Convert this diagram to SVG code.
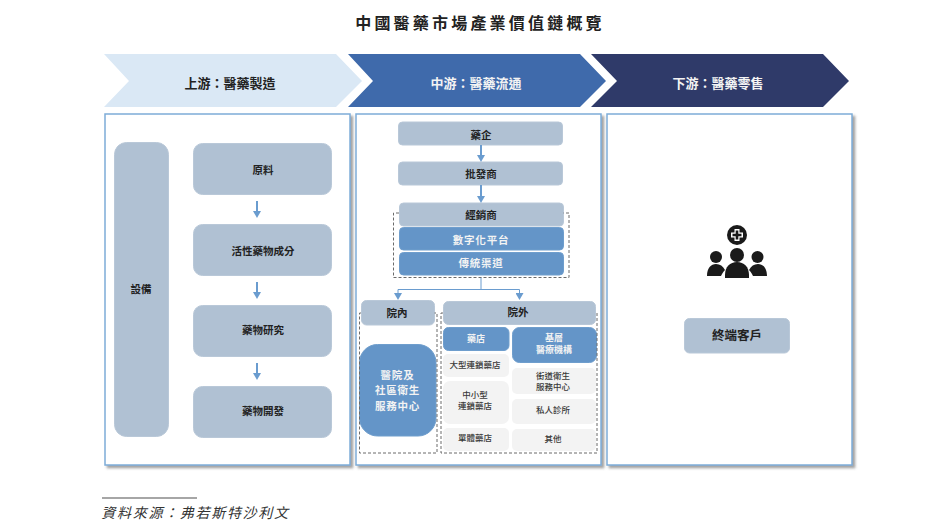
<svg xmlns="http://www.w3.org/2000/svg" width="949" height="525" viewBox="0 0 949 525">
<style>
text{font-family:"Noto Sans CJK TC","Noto Sans CJK SC",sans-serif;text-anchor:middle;font-weight:700;fill:#222}
.g{fill:#b0c1d3;stroke:#b9c8d8;stroke-width:1}
.b{fill:#6495c8;stroke:#6f9ecd;stroke-width:1}
.p{fill:#fff;stroke:#7dacd8;stroke-width:1.5;filter:url(#sh)}
.t{fill:#f3f3f3;stroke:none}
.m{font-weight:500;fill:#3a3a3a}
.lt{fill:#f3f3f3}
.d{fill:none;stroke:#6b6b6b;stroke-width:1;stroke-dasharray:3 2}
.c{fill:none;stroke:#6a9ccf;stroke-width:2}
.c2{fill:none;stroke:#6a9ccf;stroke-width:1}
</style>
<defs>
<filter id="sh" x="-5%" y="-5%" width="110%" height="110%"><feDropShadow dx="2.5" dy="2.5" stdDeviation="1.2" flood-color="#666" flood-opacity="0.6"/></filter>
<marker id="s" markerWidth="8" markerHeight="7" refX="4" refY="1" orient="0" viewBox="0 0 8 7" markerUnits="userSpaceOnUse"><path d="M0 0L8 0L4 7Z" fill="#6a9ccf"/></marker>
</defs>
<text id="title" x="480" y="29" font-size="16" letter-spacing="3.200">中國醫藥市場產業價值鏈概覽</text>
<g id="stage-up"><path d="M104 54H336L362 81L336 107H104L129 81Z" fill="#dae8f5"/><text x="230" y="88" font-size="13">上游&#xFF1A;醫藥製造</text></g>
<g id="stage-mid"><path d="M348 54H580L606 81L580 107H348L373 81Z" fill="#3f6aab"/><text class="lt" x="476" y="88" font-size="13">中游&#xFF1A;醫藥流通</text></g>
<g id="stage-down"><path d="M591 54H823L849 81L823 107H591L617 81Z" fill="#2f3a69"/><text class="lt" x="718" y="88" font-size="13">下游&#xFF1A;醫藥零售</text></g>
<rect id="panel-up" class="p" x="105" y="114" width="245" height="351"/>
<rect id="panel-mid" class="p" x="356" y="114" width="245" height="351"/>
<rect id="panel-down" class="p" x="607" y="114" width="245" height="351"/>
<g id="equipment"><rect class="g" x="114.500" y="142.500" width="54" height="294" rx="12"/><text x="141" y="293" font-size="10.500">設備</text></g>
<g id="raw"><rect class="g" x="193.500" y="143.500" width="138" height="51" rx="9"/><text x="263" y="174" font-size="10.500">原料</text></g>
<g id="api"><rect class="g" x="193.500" y="224.500" width="138" height="51" rx="9"/><text x="263" y="255" font-size="10.500">活性藥物成分</text></g>
<g id="research"><rect class="g" x="193.500" y="305.500" width="138" height="51" rx="9"/><text x="263" y="334" font-size="10.500">藥物研究</text></g>
<g id="dev"><rect class="g" x="193.500" y="386.500" width="138" height="51" rx="9"/><text x="263" y="415" font-size="10.500">藥物開發</text></g>
<g id="pharma"><rect class="g" x="398.500" y="122" width="164" height="23" rx="4"/><text x="481" y="139" font-size="10.500">藥企</text></g>
<g id="wholesale"><rect class="g" x="398.500" y="162" width="164" height="23" rx="4"/><text x="481" y="178" font-size="10.500">批發商</text></g>
<g id="distributor"><rect class="g" x="399.500" y="203" width="164" height="23" rx="4"/><text x="481" y="219" font-size="10.500">經銷商</text></g>
<g id="digital"><rect class="b" x="399.500" y="227.500" width="164" height="22.500" rx="4"/><text class="lt" x="481" y="244" font-size="10.500" letter-spacing="0.800">數字化平台</text></g>
<g id="traditional"><rect class="b" x="399.500" y="252.500" width="164" height="22.500" rx="4"/><text class="lt" x="481" y="267" font-size="10.500" letter-spacing="0.800">傳統渠道</text></g>
<g id="inhospital"><rect class="g" x="361.500" y="300.500" width="73" height="24.500" rx="5"/><text x="397" y="317" font-size="10.500">院內</text></g>
<g id="outhospital"><rect class="g" x="443.500" y="301.500" width="152" height="23" rx="5"/><text x="518" y="316" font-size="10.500">院外</text></g>
<g id="hospitals"><rect class="b" x="359.500" y="344.500" width="76.500" height="91.500" rx="18"/><text class="lt" font-size="10.500" letter-spacing="0.800"><tspan x="397.500" y="379">醫院及</tspan><tspan x="397.500" y="394">社區衛生</tspan><tspan x="397.500" y="410">服務中心</tspan></text></g>
<g id="pharmacy"><rect class="b" x="443.500" y="327.500" width="65.500" height="23" rx="5"/><text class="lt" x="476" y="342" font-size="9">藥店</text></g>
<g id="primary"><rect class="b" x="512.500" y="327.500" width="84" height="35" rx="7"/><text class="lt" font-size="9"><tspan x="554" y="341">基層</tspan><tspan x="554" y="353">醫療機構</tspan></text></g>
<g id="chain"><rect class="t" x="443" y="354" width="66" height="23" rx="5"/><text class="m" x="475" y="368" font-size="8.500">大型連鎖藥店</text></g>
<g id="small"><rect class="t" x="443" y="381" width="66" height="43" rx="7"/><text class="m" font-size="8.500"><tspan x="475" y="398">中小型</tspan><tspan x="475" y="409">連鎖藥店</tspan></text></g>
<g id="single"><rect class="t" x="443" y="428" width="66" height="23" rx="5"/><text class="m" x="475" y="441" font-size="8.500">單體藥店</text></g>
<g id="street"><rect class="t" x="512" y="368" width="84" height="26" rx="5"/><text class="m" font-size="8.500"><tspan x="553" y="379">街道衛生</tspan><tspan x="553" y="390">服務中心</tspan></text></g>
<g id="clinic"><rect class="t" x="512" y="399" width="84" height="25" rx="5"/><text class="m" x="553" y="413" font-size="8.500">私人診所</text></g>
<g id="other"><rect class="t" x="512" y="429" width="84" height="22" rx="5"/><text class="m" x="553" y="442" font-size="8.500">其他</text></g>
<g id="customer-icon" fill="#1a1a1a">
<circle cx="737" cy="235" r="10"/><path d="M734.500 229H739.500V232.500H743V237.500H739.500V241H734.500V237.500H731V232.500H734.500Z" fill="#fff"/><path d="M735.700 230.500H738.300V233.700H741.500V236.300H738.300V239.500H735.700V236.300H732.500V233.700H735.700Z"/>
<circle cx="716" cy="257" r="6"/><circle cx="737" cy="255" r="7"/><circle cx="757.500" cy="257" r="6"/>
<path d="M707 276C707 268 711 264 716 264C720 264 723 266 725 270C723 272 722 274 721 276Z"/>
<path d="M767 276C767 268 763 264 758 264C754 264 751 266 749 270C751 272 752 274 753 276Z"/>
<path d="M725 278V275C725 267 730 262 737 262C744 262 749 267 749 275V278Z"/>
</g>
<g id="customer"><rect class="g" x="684.500" y="318.500" width="105" height="34.500" rx="5"/><text x="737" y="340" font-size="12.500">終端客戶</text></g>
<g id="connectors">
<path class="c" d="M257 201V212" marker-end="url(#s)"/><path class="c" d="M257 282V293" marker-end="url(#s)"/><path class="c" d="M257 363V374" marker-end="url(#s)"/>
<path class="c" d="M481 145V156" marker-end="url(#s)"/><path class="c" d="M481 185V197" marker-end="url(#s)"/>
<path class="c2" d="M481 277.500V289.500M398 289.500H519.500"/>
<path class="c2" d="M398 289.500V294" marker-end="url(#s)"/><path class="c2" d="M519.500 289.500V294" marker-end="url(#s)"/>
</g>
<g id="dashed">
<path class="d" d="M399 213H393.500V277.500H569V213H563.500"/>
<path class="d" d="M361 313H359.500V453H437V313H434.500"/>
<path class="d" d="M443 313H441V453H597V313H596"/>
</g>
<g id="source"><path d="M102 498H197" stroke="#888" stroke-width="1.500"/><text x="195.500" y="518" font-size="14" letter-spacing="1.700" font-style="italic" style="font-weight:400;fill:#333">資料來源&#xFF1A;弗若斯特沙利文</text></g>
</svg>
